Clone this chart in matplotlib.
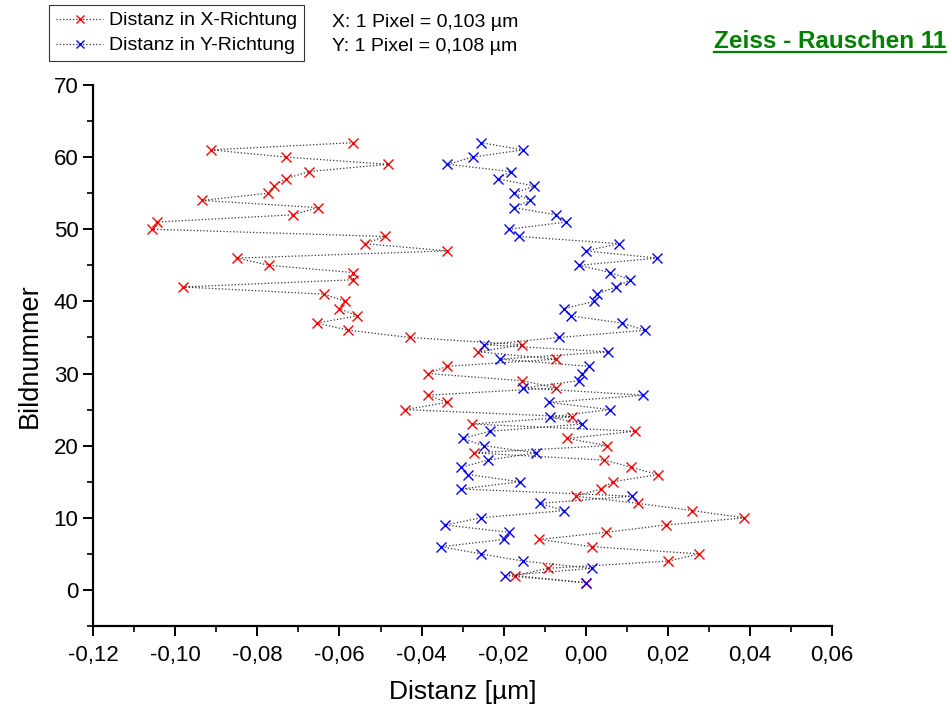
import matplotlib
matplotlib.use("Agg")
import matplotlib.pyplot as plt
from matplotlib.ticker import MultipleLocator, FuncFormatter
from matplotlib.lines import Line2D

plt.rcParams["font.family"] = ["Liberation Sans", "DejaVu Sans"]

# Bildnummer 1..62
bild = list(range(1, 63))

# Distanz in X-Richtung (µm), Bild 1..62
dist_x = [
    0.0000, -0.0172, -0.0092, 0.0201, 0.0276, 0.0016, -0.0113, 0.0050, 0.0195, 0.0386,
    0.0259, 0.0128, -0.0025, 0.0036, 0.0066, 0.0176, 0.0111, 0.0045, -0.0272, 0.0052,
    -0.0045, 0.0120, -0.0277, -0.0033, -0.0440, -0.0338, -0.0384, -0.0072, -0.0155, -0.0384,
    -0.0338, -0.0072, -0.0262, -0.0155, -0.0429, -0.0579, -0.0654, -0.0557, -0.0600, -0.0586,
    -0.0637, -0.0982, -0.0566, -0.0567, -0.0771, -0.0850, -0.0338, -0.0539, -0.0489, -0.1056,
    -0.1045, -0.0714, -0.0653, -0.0934, -0.0773, -0.0760, -0.0731, -0.0674, -0.0481, -0.0731,
    -0.0912, -0.0566,
]

# Distanz in Y-Richtung (µm), Bild 1..62
dist_y = [
    0.0000, -0.0198, 0.0016, -0.0152, -0.0256, -0.0353, -0.0199, -0.0188, -0.0342, -0.0256,
    -0.0053, -0.0112, 0.0113, -0.0303, -0.0160, -0.0287, -0.0304, -0.0239, -0.0122, -0.0249,
    -0.0300, -0.0233, -0.0010, -0.0087, 0.0058, -0.0090, 0.0140, -0.0152, -0.0017, -0.0009,
    0.0008, -0.0208, 0.0055, -0.0247, -0.0065, 0.0144, 0.0087, -0.0036, -0.0053, 0.0020,
    0.0026, 0.0073, 0.0108, 0.0060, -0.0017, 0.0174, 0.0000, 0.0081, -0.0162, -0.0187,
    -0.0049, -0.0073, -0.0175, -0.0135, -0.0174, -0.0126, -0.0215, -0.0183, -0.0337, -0.0276,
    -0.0153, -0.0255,
]

x_ticks = [-0.12, -0.10, -0.08, -0.06, -0.04, -0.02, 0.00, 0.02, 0.04, 0.06]
y_ticks = [0, 10, 20, 30, 40, 50, 60, 70]

fig = plt.figure(figsize=(9.5, 7.11), dpi=100)
ax = fig.add_axes([0.098, 0.1195, 0.778, 0.761])

ax.plot(dist_x, bild, linestyle=":", color="#333333", linewidth=0.9,
        marker="x", markersize=7, markeredgecolor="red", markeredgewidth=1.0)
ax.plot(dist_y, bild, linestyle=":", color="#333333", linewidth=0.9,
        marker="x", markersize=7, markeredgecolor="blue", markeredgewidth=1.0)

ax.set_xlim(-0.12, 0.06)
ax.set_ylim(-5, 70)
ax.set_xticks(x_ticks)
ax.set_yticks(y_ticks)
ax.xaxis.set_minor_locator(MultipleLocator(0.01))
ax.yaxis.set_minor_locator(MultipleLocator(5))
ax.xaxis.set_major_formatter(FuncFormatter(lambda v, p: f"{v:.2f}".replace(".", ",").replace("-0,00", "0,00")))

for s in ["top", "right"]:
    ax.spines[s].set_visible(False)
for s in ["left", "bottom"]:
    ax.spines[s].set_linewidth(1.6)
ax.tick_params(which="major", direction="out", length=7, width=1.4, labelsize=16)
ax.tick_params(axis="x", which="major", pad=7)
ax.tick_params(which="minor", direction="out", length=4, width=1.2)

ax.set_xlabel("Distanz [µm]", fontsize=19, labelpad=10)
ax.set_ylabel("Bildnummer", fontsize=19.5, labelpad=8)

handles = [
    Line2D([], [], linestyle=":", color="#333333", linewidth=0.9, marker="x",
           markeredgecolor="red", markersize=6),
    Line2D([], [], linestyle=":", color="#333333", linewidth=0.9, marker="x",
           markeredgecolor="blue", markersize=6),
]
leg = fig.legend(handles, ["Distanz in X-Richtung", "Distanz in Y-Richtung"],
                 loc="upper left", bbox_to_anchor=(0.052, 0.993), fontsize=14,
                 frameon=True, fancybox=False, edgecolor="black", handlelength=2.4,
                 handletextpad=0.3, borderpad=0.35, labelspacing=0.38, borderaxespad=0)
leg.get_frame().set_linewidth(0.8)

fig.text(0.350, 0.969, "X: 1 Pixel = 0,103 µm", fontsize=14, va="center")
fig.text(0.350, 0.934, "Y: 1 Pixel = 0,108 µm", fontsize=14, va="center")

title = fig.text(0.996, 0.941, "Zeiss - Rauschen 11", fontsize=17.5, fontweight="bold",
                 color="#008000", ha="right", va="center")
fig.canvas.draw()
bb = title.get_window_extent().transformed(fig.transFigure.inverted())
fig.add_artist(Line2D([bb.x0, bb.x1], [bb.y0 + 0.002, bb.y0 + 0.002],
                      color="#008000", linewidth=1.6, transform=fig.transFigure))

fig.savefig("out.png", dpi=100)
